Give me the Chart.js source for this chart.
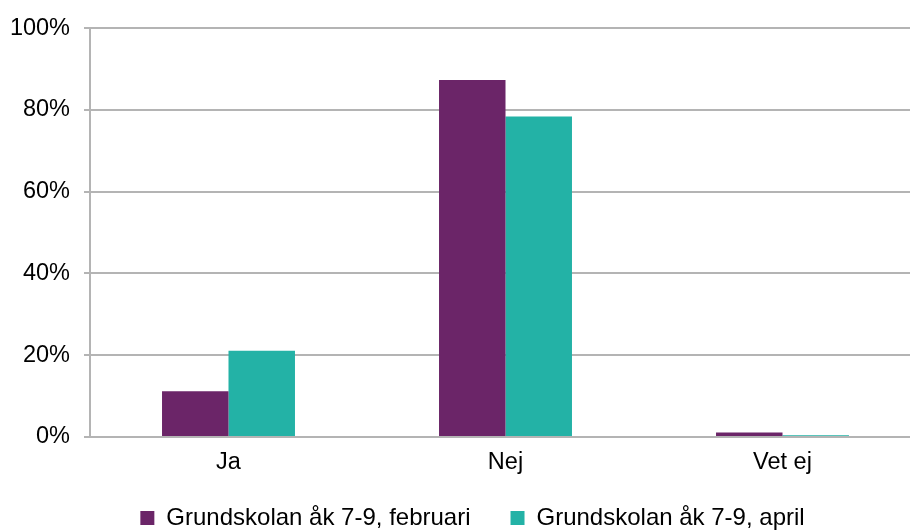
<!DOCTYPE html>
<html>
<head>
<meta charset="utf-8">
<script src="https://cdn.jsdelivr.net/npm/chart.js@4/dist/chart.umd.min.js"></script>
<style>
    html, body { margin: 0; padding: 0; background: #fff; overflow: hidden; }
    #wrap { width: 946px; height: 557px; }
</style>
</head>
<body>
<div id="wrap"><canvas id="my-chart" width="946" height="557"></canvas></div>
<script>
const categories = ["Ja", "Nej", "Vet ej"];
const seriesNames = ["Grundskolan åk 7-9, februari", "Grundskolan åk 7-9, april"];
const februari = [11.2, 87.3, 1.1];
const april = [21.1, 78.4, 0.4];
const yTicks = [0, 20, 40, 60, 80, 100];

const tickFont = { family: "'Liberation Sans', Arial, sans-serif", size: 23.5 };
const legendFont = { family: "'Liberation Sans', Arial, sans-serif", size: 24 };

// legend padding also sets the gap between items, so nudge the legend box into place
const legendShift = {
    id: "legendShift",
    afterLayout(chart) {
        const legend = chart.legend;
        if (legend) {
            legend.top -= 17;
            legend.bottom -= 17;
            legend.left += 12;
            legend.right += 12;
        }
    }
};

const ctx = document.getElementById("my-chart").getContext("2d");

const myChart = new Chart(ctx, {
    type: "bar",
    data: {
        labels: categories,
        datasets: [
            {
                label: seriesNames[0],
                backgroundColor: "#6B2568",
                data: februari
            },
            {
                label: seriesNames[1],
                backgroundColor: "#23B2A6",
                data: april
            }
        ]
    },
    plugins: [legendShift],
    options: {
        responsive: false,
        animation: false,
        layout: { padding: { top: 25, right: 25, left: 0, bottom: 0 } },
        datasets: {
            bar: { barPercentage: 1, categoryPercentage: 0.48 }
        },
        plugins: {
            tooltip: { enabled: false },
            legend: {
                position: "bottom",
                labels: {
                    font: legendFont,
                    color: "#000",
                    boxWidth: 14,
                    boxHeight: 14,
                    padding: 40
                }
            }
        },
        scales: {
            x: {
                grid: { display: false },
                border: { color: "#B4B4B4", width: 2 },
                ticks: { font: tickFont, color: "#000", padding: 3 },
                afterFit: scale => { scale.height = 46; }
            },
            y: {
                min: 0,
                max: 100,
                afterBuildTicks: scale => {
                    scale.ticks = yTicks.map(v => ({ value: v }));
                },
                afterFit: scale => { scale.width = 90; },
                grid: { color: "#B4B4B4", lineWidth: 2, tickLength: 6 },
                border: { color: "#B4B4B4", width: 2 },
                ticks: {
                    font: tickFont,
                    color: "#000",
                    padding: 14,
                    callback: v => v + "%"
                }
            }
        }
    }
});
</script>
</body>
</html>
